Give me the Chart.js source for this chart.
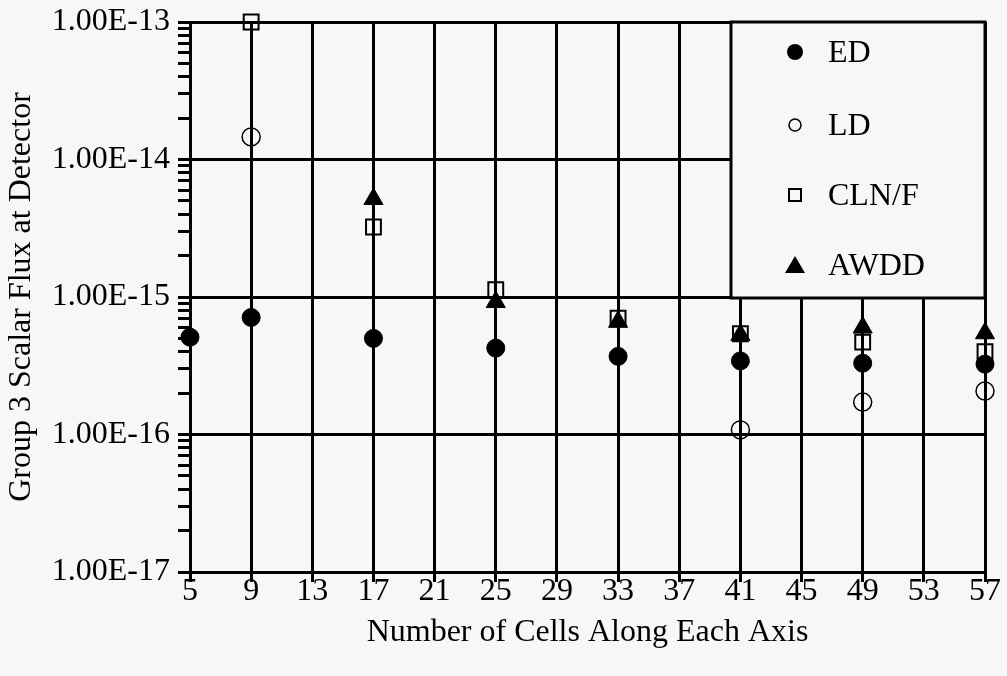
<!DOCTYPE html>
<html>
<head>
<meta charset="utf-8">
<script src="https://cdn.jsdelivr.net/npm/chart.js@4.4.0/dist/chart.umd.min.js"></script>
<style>
  html, body { margin: 0; padding: 0; background: #f7f7f7; }
  #wrap { width: 1007px; height: 676px; }
</style>
</head>
<body>
<div id="wrap"><canvas id="flux"></canvas></div>
<script>
// Données
const xCells = [5, 9, 17, 25, 33, 41, 49, 57];
const edFlux = [5.1e-16, 7.1e-16, 5.0e-16, 4.25e-16, 3.7e-16, 3.43e-16, 3.3e-16, 3.25e-16];
const ldFlux = [null, 1.46e-14, null, null, null, 1.08e-16, 1.72e-16, 2.07e-16];
const clnfFlux = [null, 1.0e-13, 3.23e-15, 1.13e-15, 7.0e-16, 5.4e-16, 4.7e-16, 4.0e-16];
const awddFlux = [null, null, 5.16e-15, 9.2e-16, 6.6e-16, 5.3e-16, 6.0e-16, 5.45e-16];

const seriesLabels = ['ED', 'LD', 'CLN/F', 'AWDD'];

// Graduations
const xTicks = [5, 9, 13, 17, 21, 25, 29, 33, 37, 41, 45, 49, 53, 57];
const yDecades = [-17, -16, -15, -14, -13];
const yMinorSteps = [1, 2, 3, 4, 5, 6, 7, 8, 9];

const serif = "'Liberation Serif', 'Times New Roman', serif";

function toPoints(_values) {
	const pts = [];
	_values.forEach((v, i) => {
		if (v !== null) pts.push({ x: xCells[i], y: v });
	});
	return pts;
}

function isDecade(v) {
	const l = Math.log10(v);
	return Math.abs(l - Math.round(l)) < 1e-6;
}

// Légende dessinée dans un cadre en haut à droite de la zone de tracé
const boxLegend = {
	id: 'boxLegend',
	afterDraw(chart) {
		const ctx = chart.ctx;
		const area = chart.chartArea;
		const left = area.right - 254;
		const top = area.top;
		const h = 276;
		ctx.save();
		ctx.fillStyle = '#f7f7f7';
		ctx.fillRect(left, top, 254, h);
		ctx.strokeStyle = '#000';
		ctx.lineWidth = 3;
		ctx.strokeRect(left, top, 254, h);

		const rows = [30, 103, 173, 243];
		const mx = left + 64;
		ctx.fillStyle = '#000';
		ctx.font = "32px " + serif;
		ctx.textBaseline = 'middle';
		ctx.textAlign = 'left';
		seriesLabels.forEach((lab, i) => {
			const y = top + rows[i];
			ctx.beginPath();
			if (i === 0) {
				ctx.arc(mx, y, 8, 0, Math.PI * 2);
				ctx.fill();
			} else if (i === 1) {
				ctx.lineWidth = 1.5;
				ctx.arc(mx, y, 6, 0, Math.PI * 2);
				ctx.stroke();
			} else if (i === 2) {
				ctx.lineWidth = 2;
				ctx.strokeRect(mx - 6, y - 6, 12, 12);
			} else {
				ctx.moveTo(mx, y - 9);
				ctx.lineTo(mx + 10, y + 8);
				ctx.lineTo(mx - 10, y + 8);
				ctx.closePath();
				ctx.fill();
			}
			ctx.fillText(lab, left + 97, y + 2);
		});
		ctx.restore();
	}
};

function createFluxChart() {
	const ctx = document.getElementById('flux');

	new Chart(ctx, {
		type: 'scatter',
		data: {
			datasets: [
				{
					label: seriesLabels[0],
					data: toPoints(edFlux),
					pointStyle: 'circle',
					pointRadius: 9,
					backgroundColor: '#000',
					borderColor: '#000',
					borderWidth: 1,
					clip: false,
					order: 0
				},
				{
					label: seriesLabels[1],
					data: toPoints(ldFlux),
					pointStyle: 'circle',
					pointRadius: 9,
					backgroundColor: 'rgba(0,0,0,0)',
					borderColor: '#000',
					borderWidth: 1.5,
					clip: false,
					order: 2
				},
				{
					label: seriesLabels[2],
					data: toPoints(clnfFlux),
					pointStyle: 'rect',
					pointRadius: 10.5,
					backgroundColor: 'rgba(0,0,0,0)',
					borderColor: '#000',
					borderWidth: 2,
					clip: false,
					order: 3
				},
				{
					label: seriesLabels[3],
					data: toPoints(awddFlux),
					pointStyle: 'triangle',
					pointRadius: 11,
					backgroundColor: '#000',
					borderColor: '#000',
					borderWidth: 1,
					clip: false,
					order: 1
				}
			]
		},
		options: {
			responsive: true,
			maintainAspectRatio: false,
			animation: false,
			layout: {
				padding: { top: 22, right: 22, left: 0, bottom: 0 }
			},
			scales: {
				x: {
					type: 'linear',
					min: 5,
					max: 57,
					afterBuildTicks: (scale) => {
						scale.ticks = xTicks.map(v => ({ value: v }));
					},
					afterFit: (scale) => {
						scale.height = 104;
						scale.paddingLeft = 0;
						scale.paddingRight = 0;
					},
					grid: {
						color: '#000',
						lineWidth: 3,
						tickLength: 10,
						tickWidth: 3,
						tickColor: '#000'
					},
					border: { display: true, color: '#000', width: 3 },
					ticks: {
						autoSkip: false,
						maxRotation: 0,
						color: '#000',
						padding: -6,
						font: { family: serif, size: 32, lineHeight: 1 }
					},
					title: {
						display: true,
						text: 'Number of Cells Along Each Axis',
						color: '#000',
						padding: { top: 12, bottom: 27 },
						font: { family: serif, size: 32, lineHeight: 1 }
					}
				},
				y: {
					type: 'logarithmic',
					min: 1e-17,
					max: 1e-13,
					afterBuildTicks: (scale) => {
						const t = [];
						yDecades.forEach(d => {
							if (d === yDecades[yDecades.length - 1]) {
								t.push({ value: Math.pow(10, d), major: true });
							} else {
								yMinorSteps.forEach(s => {
									t.push({ value: s * Math.pow(10, d), major: s === 1 });
								});
							}
						});
						scale.ticks = t;
					},
					afterFit: (scale) => {
						scale.width = 190;
						scale.paddingTop = 0;
						scale.paddingBottom = 0;
					},
					grid: {
						color: (c) => (c.tick && isDecade(c.tick.value)) ? '#000' : 'rgba(0,0,0,0)',
						lineWidth: 3,
						tickLength: 12,
						tickWidth: 3,
						tickColor: '#000'
					},
					border: { display: true, color: '#000', width: 3 },
					ticks: {
						autoSkip: false,
						color: '#000',
						padding: 8,
						font: { family: serif, size: 32 },
						callback: (value) => isDecade(value) ? Number(value).toExponential(2).toUpperCase() : ''
					},
					title: {
						display: true,
						text: 'Group 3 Scalar Flux at Detector',
						color: '#000',
						padding: { top: 6, bottom: 4 },
						font: { family: serif, size: 32, lineHeight: 1 }
					}
				}
			},
			plugins: {
				legend: { display: false },
				tooltip: { enabled: false }
			}
		},
		plugins: [boxLegend]
	});
}

createFluxChart();
</script>
</body>
</html>
